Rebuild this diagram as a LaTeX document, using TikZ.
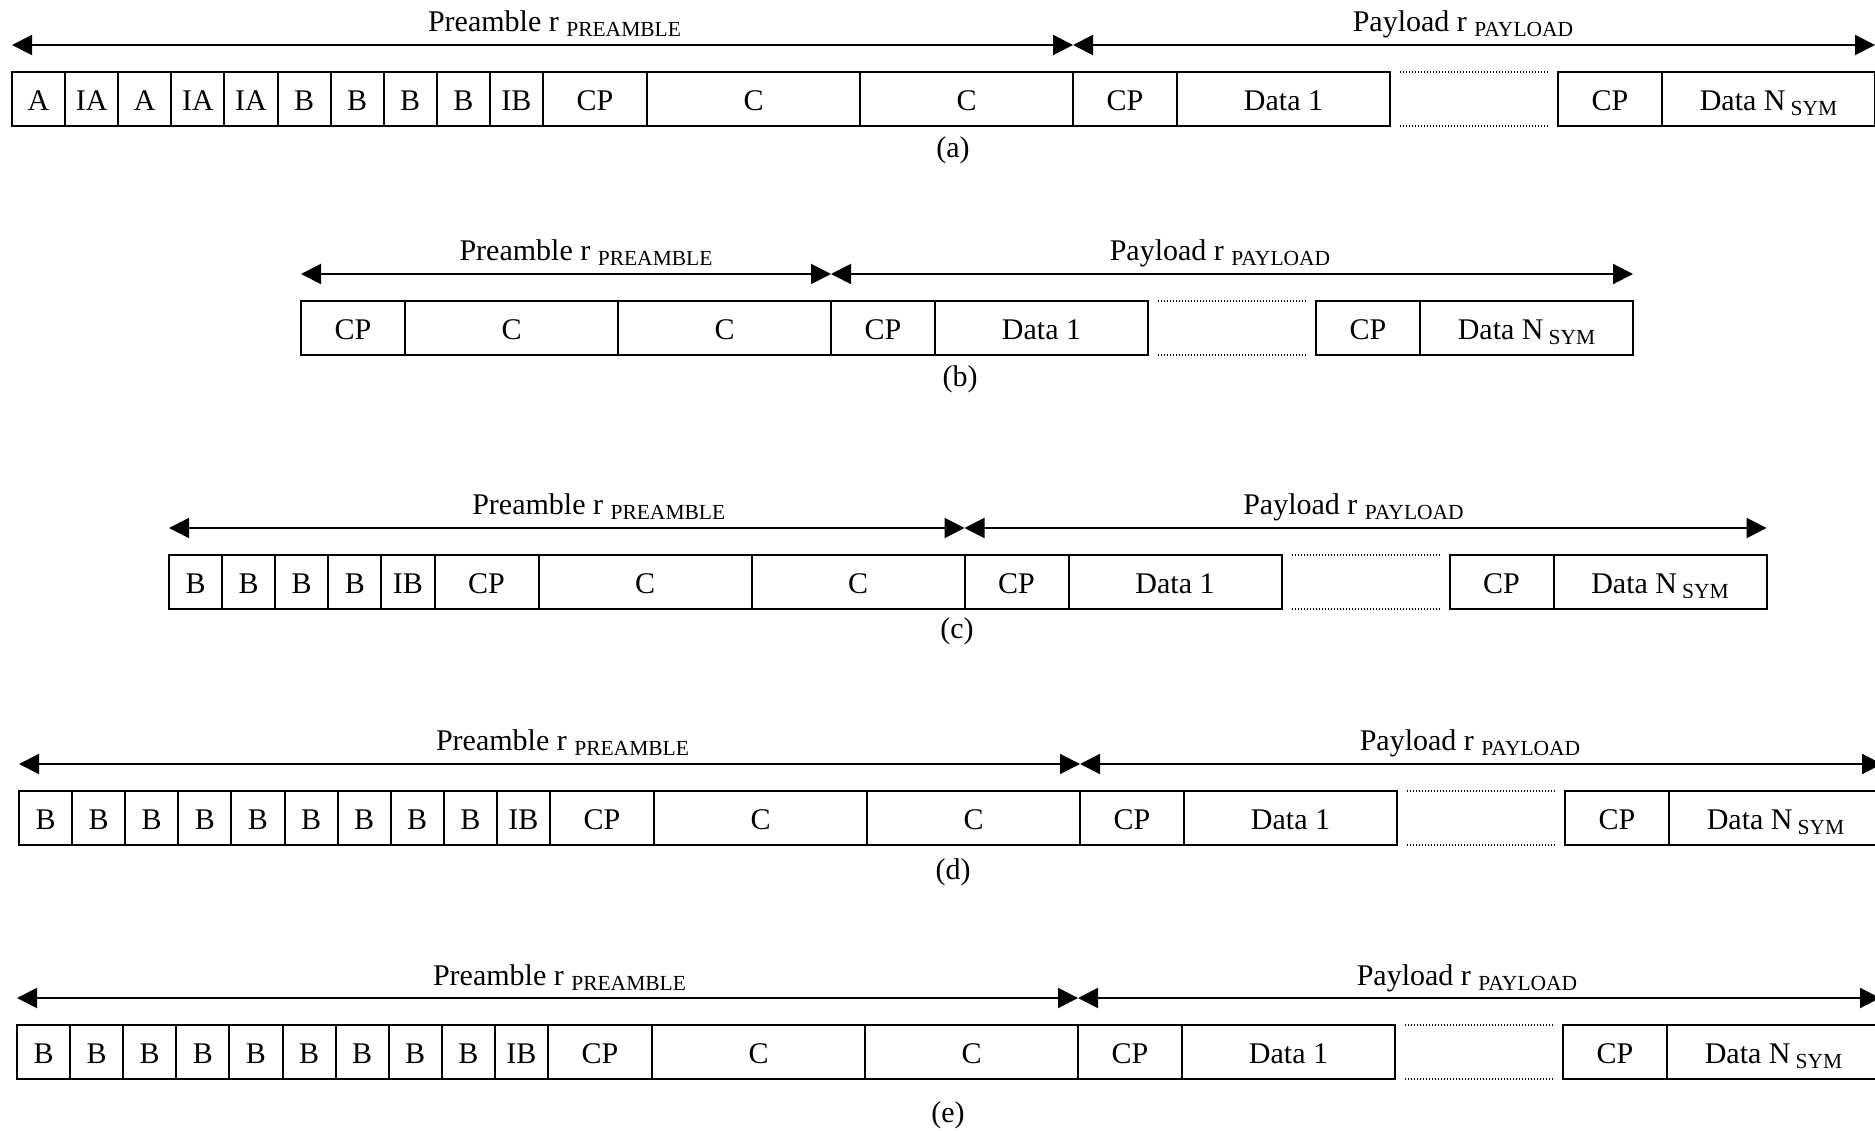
\documentclass[tikz,border=0pt]{standalone}
\usepackage{fontspec}
\setmainfont{Liberation Serif}
\usetikzlibrary{positioning,arrows.meta}

\newcommand{\sub}[1]{\raisebox{-2pt}{\fontsize{8.6}{10}\selectfont #1}}

\begin{document}
\begin{tikzpicture}[x=0.4pt,y=-0.4pt,font=\fontsize{12}{14}\selectfont,
    cell/.style={draw,line width=0.8pt,minimum width=21.24pt,minimum height=21.6pt,inner sep=0pt,outer sep=0pt,text height=9.3pt,text depth=0pt},
    cp/.style={cell,minimum width=41.6pt},
    sym/.style={cell,minimum width=85.2pt},
    gap/.style={minimum width=67.2pt,minimum height=21.6pt,inner sep=0pt,outer sep=0pt},
    span/.style={line width=0.8pt,{Triangle[length=8pt,width=8pt]}-{Triangle[length=8pt,width=8pt]}},
    lbl/.style={midway,anchor=base,yshift=5.2pt,inner sep=0pt},
    dots/.style={line width=0.5pt,dash pattern=on 0.5pt off 0.7pt}]
\useasboundingbox (0,0) rectangle (1875,1131);

% (a)
\foreach \t [count=\i] in {A,IA,A,IA,IA,B,B,B,B,IB}
    \node[cell,anchor=west] (a\i) at ({12+(\i-1)*53.1},99) {\t};
\node[cp,right=0pt of a10] (a11) {CP};
\node[sym,right=0pt of a11] (a12) {C};
\node[sym,right=0pt of a12] (a13) {C};
\node[cp,right=0pt of a13] (a14) {CP};
\node[sym,right=0pt of a14] (a15) {Data 1};
\node[gap,right=0pt of a15] (a16) {};
\node[cp,right=0pt of a16] (a17) {CP};
\node[sym,right=0pt of a17] (a18) {Data N\,\sub{SYM}};
\draw[span] ([yshift=10.8pt]a1.north west) -- node[lbl,xshift=4.8pt] {Preamble r \sub{PREAMBLE}} ([yshift=10.8pt]a13.north east);
\draw[span] ([yshift=10.8pt]a14.north west) -- node[lbl,xshift=-4.4pt] {Payload r \sub{PAYLOAD}} ([yshift=10.8pt]a18.north east);
\draw[dots] ([xshift=4pt]a16.north west) -- ([xshift=-4pt]a16.north east);
\draw[dots] ([xshift=4pt]a16.south west) -- ([xshift=-4pt]a16.south east);
\node (capa) at (953,150) {(a)};

% (b)
\node[cp,anchor=west] (b1) at (301,328) {CP};
\node[sym,right=0pt of b1] (b2) {C};
\node[sym,right=0pt of b2] (b3) {C};
\node[cp,right=0pt of b3] (b4) {CP};
\node[sym,right=0pt of b4] (b5) {Data 1};
\node[gap,right=0pt of b5] (b6) {};
\node[cp,right=0pt of b6] (b7) {CP};
\node[sym,right=0pt of b7] (b8) {Data N\,\sub{SYM}};
\draw[span] ([yshift=10.8pt]b1.north west) -- node[lbl,xshift=8pt] {Preamble r \sub{PREAMBLE}} ([yshift=10.8pt]b3.north east);
\draw[span] ([yshift=10.8pt]b4.north west) -- node[lbl,xshift=-4.8pt] {Payload r \sub{PAYLOAD}} ([yshift=10.8pt]b8.north east);
\draw[dots] ([xshift=4pt]b6.north west) -- ([xshift=-4pt]b6.north east);
\draw[dots] ([xshift=4pt]b6.south west) -- ([xshift=-4pt]b6.south east);
\node (capb) at (960,379) {(b)};

% (c)
\foreach \t [count=\i] in {B,B,B,B,IB}
    \node[cell,anchor=west] (c\i) at ({169+(\i-1)*53.1},582) {\t};
\node[cp,right=0pt of c5] (c6) {CP};
\node[sym,right=0pt of c6] (c7) {C};
\node[sym,right=0pt of c7] (c8) {C};
\node[cp,right=0pt of c8] (c9) {CP};
\node[sym,right=0pt of c9] (c10) {Data 1};
\node[gap,right=0pt of c10] (c11) {};
\node[cp,right=0pt of c11] (c12) {CP};
\node[sym,right=0pt of c12] (c13) {Data N\,\sub{SYM}};
\draw[span] ([yshift=10.8pt]c1.north west) -- node[lbl,xshift=12.8pt] {Preamble r \sub{PREAMBLE}} ([yshift=10.8pt]c8.north east);
\draw[span] ([yshift=10.8pt]c9.north west) -- node[lbl,xshift=-4.8pt] {Payload r \sub{PAYLOAD}} ([yshift=10.8pt]c13.north east);
\draw[dots] ([xshift=4pt]c11.north west) -- ([xshift=-4pt]c11.north east);
\draw[dots] ([xshift=4pt]c11.south west) -- ([xshift=-4pt]c11.south east);
\node (capc) at (957,631) {(c)};

% (d)
\foreach \t [count=\i] in {B,B,B,B,B,B,B,B,B,IB}
    \node[cell,anchor=west] (d\i) at ({19+(\i-1)*53.1},818) {\t};
\node[cp,right=0pt of d10] (d11) {CP};
\node[sym,right=0pt of d11] (d12) {C};
\node[sym,right=0pt of d12] (d13) {C};
\node[cp,right=0pt of d13] (d14) {CP};
\node[sym,right=0pt of d14] (d15) {Data 1};
\node[gap,right=0pt of d15] (d16) {};
\node[cp,right=0pt of d16] (d17) {CP};
\node[sym,right=0pt of d17] (d18) {Data N\,\sub{SYM}};
\draw[span] ([yshift=10.8pt]d1.north west) -- node[lbl,xshift=5.2pt] {Preamble r \sub{PREAMBLE}} ([yshift=10.8pt]d13.north east);
\draw[span] ([yshift=10.8pt]d14.north west) -- node[lbl,xshift=-4.4pt] {Payload r \sub{PAYLOAD}} ([yshift=10.8pt]d18.north east);
\draw[dots] ([xshift=4pt]d16.north west) -- ([xshift=-4pt]d16.north east);
\draw[dots] ([xshift=4pt]d16.south west) -- ([xshift=-4pt]d16.south east);
\node (capd) at (953,872) {(d)};

% (e)
\foreach \t [count=\i] in {B,B,B,B,B,B,B,B,B,IB}
    \node[cell,anchor=west] (e\i) at ({17+(\i-1)*53.1},1052) {\t};
\node[cp,right=0pt of e10] (e11) {CP};
\node[sym,right=0pt of e11] (e12) {C};
\node[sym,right=0pt of e12] (e13) {C};
\node[cp,right=0pt of e13] (e14) {CP};
\node[sym,right=0pt of e14] (e15) {Data 1};
\node[gap,right=0pt of e15] (e16) {};
\node[cp,right=0pt of e16] (e17) {CP};
\node[sym,right=0pt of e17] (e18) {Data N\,\sub{SYM}};
\draw[span] ([yshift=10.8pt]e1.north west) -- node[lbl,xshift=4.8pt] {Preamble r \sub{PREAMBLE}} ([yshift=10.8pt]e13.north east);
\draw[span] ([yshift=10.8pt]e14.north west) -- node[lbl,xshift=-4.8pt] {Payload r \sub{PAYLOAD}} ([yshift=10.8pt]e18.north east);
\draw[dots] ([xshift=4pt]e16.north west) -- ([xshift=-4pt]e16.north east);
\draw[dots] ([xshift=4pt]e16.south west) -- ([xshift=-4pt]e16.south east);
\node (cape) at (948,1115) {(e)};
\end{tikzpicture}
\end{document}
